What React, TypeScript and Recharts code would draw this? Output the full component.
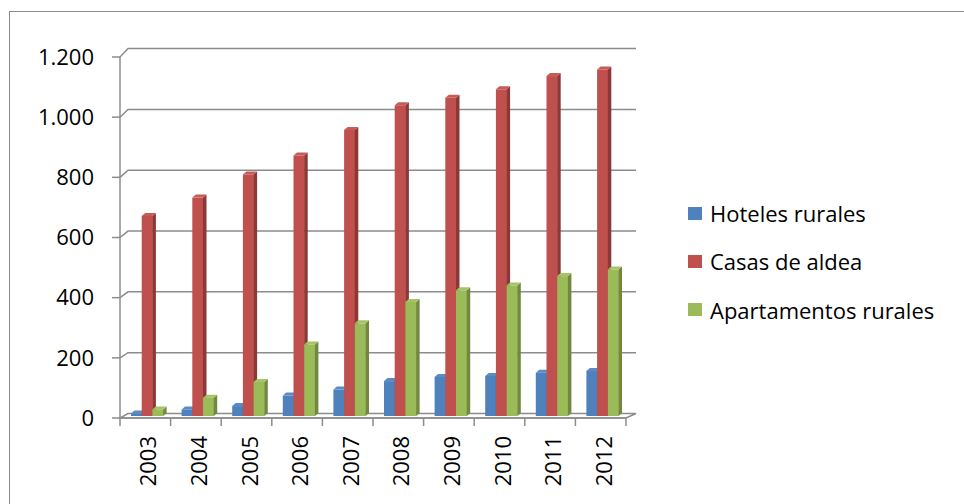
import React from 'react';
import { BarChart, Bar, XAxis, YAxis, CartesianGrid, Legend } from 'recharts';

const years = ['2003', '2004', '2005', '2006', '2007', '2008', '2009', '2010', '2011', '2012'];
const hoteles = [8, 22, 33, 68, 88, 116, 130, 133, 144, 150];
const casas = [665, 726, 803, 866, 951, 1033, 1058, 1086, 1130, 1152];
const apartamentos = [22, 61, 113, 238, 308, 379, 418, 434, 465, 487];
const yTicks = [0, 200, 400, 600, 800, 1000, 1200];
const seriesNames = ['Hoteles rurales', 'Casas de aldea', 'Apartamentos rurales'];
const seriesKeys = ['hoteles', 'casas', 'apartamentos'];
const frontColors = ['#4F81BD', '#C0504D', '#9BBB59'];
const sideColors = ['#385D8A', '#8C3836', '#71893F'];
const topColors = ['#5A8BC6', '#C85B58', '#A5C466'];

const data = years.map((y, i) => ({
  year: y,
  hoteles: hoteles[i],
  casas: casas[i],
  apartamentos: apartamentos[i],
}));

const W = 964;
const H = 504;
const MARGIN = { top: 57, right: 338, bottom: 0, left: 0 };
const Y_AXIS_W = 120;
const X_AXIS_H = 86;
const PLOT_TOP = MARGIN.top;
const PLOT_BOTTOM = H - MARGIN.bottom - X_AXIS_H;
const FONT = "'Open Sans', 'Noto Sans', sans-serif";
const GRID = '#8c8c8c';

const fmt = (v: number) =>
  v >= 1000 ? `${Math.floor(v / 1000)}.${String(v % 1000).padStart(3, '0')}` : String(v);

const make3D = (front: string, side: string, top: string) => (props: any) => {
  const { x, y, width, height } = props;
  if (width == null || height == null || isNaN(y)) return <g />;
  const X = x + 2;
  const Y = y - 2;
  const dx = 3.5;
  const dy = 3;
  return (
    <g>
      <rect x={X} y={Y} width={width + 0.3} height={height} fill={front} />
      <polygon
        points={`${X + width},${Y} ${X + width + dx},${Y - dy} ${X + width + dx},${Y + height - dy} ${X + width},${Y + height}`}
        fill={side}
      />
      <polygon
        points={`${X},${Y} ${X + dx},${Y - dy} ${X + width + dx},${Y - dy} ${X + width},${Y}`}
        fill={top}
      />
    </g>
  );
};

const backGrid = (p: any) => {
  const { x1, x2, y1, index } = p;
  const t = (PLOT_BOTTOM - y1) / (PLOT_BOTTOM - PLOT_TOP);
  const dy = 4.5 + 3.9 * t;
  const dx = 8;
  if (t < 0.01) {
    return (
      <polygon
        key={`g-${index}`}
        points={`${x1},${y1} ${x2},${y1} ${x2 + 10},${y1 - dy} ${x1 + dx},${y1 - dy}`}
        fill="#ffffff"
        stroke={GRID}
        strokeWidth={1.5}
      />
    );
  }
  return (
    <polyline
      key={`g-${index}`}
      points={`${x1},${y1} ${x1 + dx},${y1 - dy} ${x2 + 10},${y1 - dy}`}
      fill="none"
      stroke={GRID}
      strokeWidth={1.5}
    />
  );
};

const XTick = (props: any) => {
  const { x, y, payload, index, visibleTicksCount } = props;
  const half = payload && payload.offset ? payload.offset : 25.3;
  const lx = x + 2;
  const ly = y + 18;
  const isLast = index === (visibleTicksCount ?? years.length) - 1;
  return (
    <g>
      <line x1={x - half} y1={y} x2={x - half} y2={y + 8} stroke={GRID} strokeWidth={1.5} />
      {isLast && (
        <line x1={x + half} y1={y} x2={x + half} y2={y + 8} stroke={GRID} strokeWidth={1.5} />
      )}
      <text
        x={lx}
        y={ly}
        transform={`rotate(-90 ${lx} ${ly})`}
        textAnchor="end"
        dominantBaseline="central"
        fontFamily={FONT}
        fontSize={22}
        fill="#000"
      >
        {payload.value}
      </text>
    </g>
  );
};

const renderLegend = () => {
  return (
    <div style={{ fontFamily: FONT, fontSize: 22, color: '#000' }}>
      {seriesNames.map((name, i) => (
        <div
          key={`l-${i}`}
          style={{ height: 48.3, display: 'flex', alignItems: 'center', whiteSpace: 'nowrap' }}
        >
          <span
            style={{
              display: 'inline-block',
              width: 14,
              height: 13,
              background: frontColors[i],
              marginRight: 8,
            }}
          />
          <span>{name}</span>
        </div>
      ))}
    </div>
  );
};

export default function App() {
  return (
    <div
      style={{
        position: 'absolute',
        left: 0,
        top: 0,
        width: W,
        height: H,
        overflow: 'hidden',
        background: '#fff',
      }}
    >
      <div
        style={{
          position: 'absolute',
          left: 9,
          top: 11,
          width: 1000,
          height: 600,
          borderLeft: `1.5px solid ${GRID}`,
          borderTop: `1.5px solid ${GRID}`,
          pointerEvents: 'none',
        }}
      />
      <div style={{ position: 'absolute', left: 0, top: 0 }}>
        <BarChart width={W} height={H} data={data} margin={MARGIN} barSize={10.7} barGap={0}>
          <CartesianGrid vertical={false} horizontal={backGrid as any} />
          <XAxis
            dataKey="year"
            height={X_AXIS_H}
            axisLine={{ stroke: GRID, strokeWidth: 1.5 }}
            tickLine={false}
            tickSize={0}
            tickMargin={0}
            interval={0}
            tick={<XTick />}
          />
          <YAxis
            width={Y_AXIS_W}
            domain={[0, 1200]}
            ticks={yTicks}
            tickFormatter={fmt}
            tickSize={8}
            tickMargin={18}
            axisLine={{ stroke: GRID, strokeWidth: 1.5 }}
            tickLine={{ stroke: GRID, strokeWidth: 1.5 }}
            tick={{ fontFamily: FONT, fontSize: 22, fill: '#000' }}
            interval={0}
          />
          {seriesKeys.map((k, i) => (
            <Bar
              key={k}
              dataKey={k}
              name={seriesNames[i]}
              fill={frontColors[i]}
              isAnimationActive={false}
              shape={make3D(frontColors[i], sideColors[i], topColors[i])}
            />
          ))}
          <Legend
            layout="vertical"
            align="center"
            verticalAlign="middle"
            wrapperStyle={{ left: 688, top: 189, width: 276 }}
            content={renderLegend}
          />
        </BarChart>
      </div>
    </div>
  );
}
